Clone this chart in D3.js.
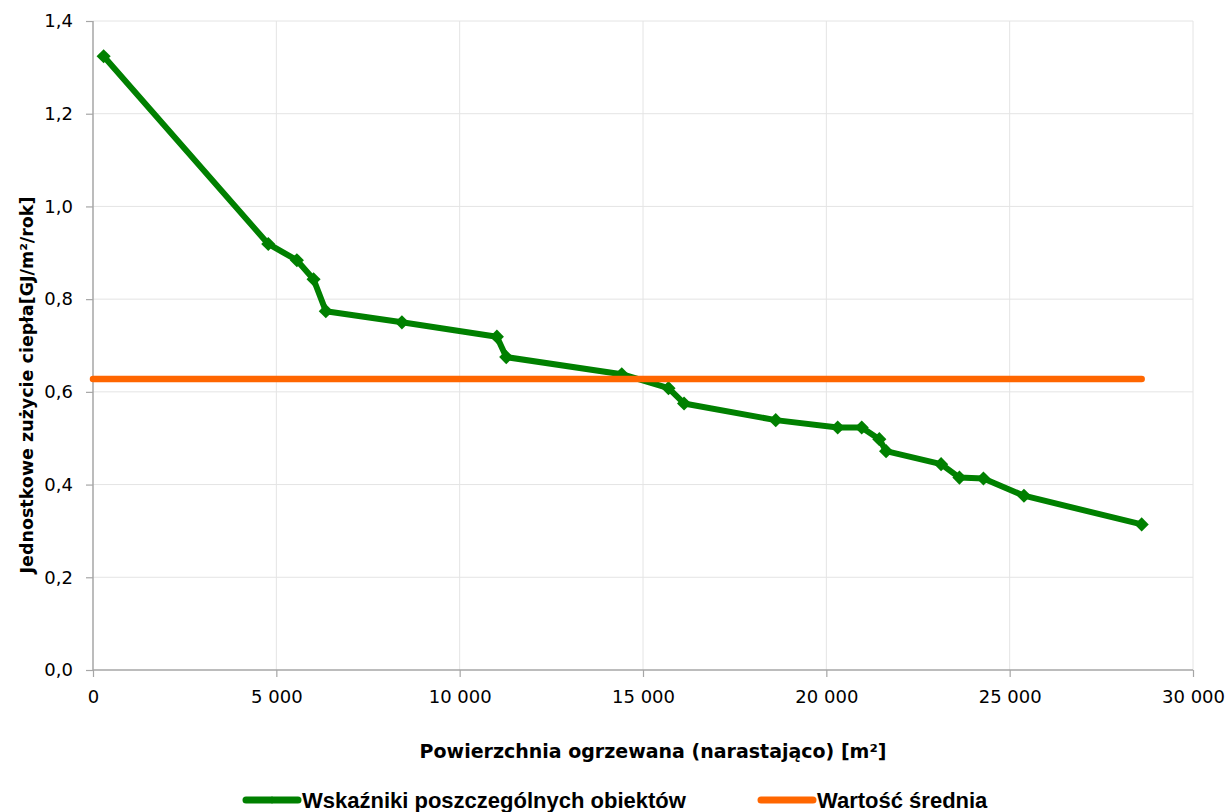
<!DOCTYPE html>
<html>
<head>
<meta charset="utf-8">
<script src="https://cdn.jsdelivr.net/npm/d3@7"></script>
<style>
  body { margin: 0; background: #fff; }
  .tick text { font-family: "DejaVu Sans", sans-serif; font-size: 18px; fill: #000; }
</style>
</head>
<body>
<div id="chart"></div>
<script>
"use strict";

// cumulative heated area [m2] and unit heat use [GJ/m2/yr]
var areaCum = [290, 4780, 5560, 6015, 6350, 8425, 11015, 11270, 14420, 15695, 16120,
               18620, 20310, 20965, 21445, 21630, 23130, 23630, 24285, 25390, 28600];
var unitUse = [1.324, 0.919, 0.884, 0.843, 0.774, 0.750, 0.719, 0.675, 0.638, 0.608, 0.575,
               0.539, 0.523, 0.523, 0.498, 0.472, 0.444, 0.415, 0.413, 0.376, 0.314];
var avgX = [0, 28600];
var avgValue = 0.628;

var xTicks = [0, 5000, 10000, 15000, 20000, 25000, 30000];
var yTicks = [0, 0.2, 0.4, 0.6, 0.8, 1.0, 1.2, 1.4];

var W = 1228, H = 812;
var margin = {top: 21, right: 35, bottom: 142, left: 93};
var width = 1193 - margin.left;
var height = 670 - margin.top;

var svg = d3.select("#chart").append("svg")
    .attr("width", W)
    .attr("height", H);

var g = svg.append("g")
    .attr("transform", "translate(" + margin.left + "," + margin.top + ")");

var x = d3.scaleLinear().domain([0, 30000]).range([0, width]);
var y = d3.scaleLinear().domain([0, 1.4]).range([height, 0]);

var fmtX = function(d) { return d3.format(",")(d).replace(/,/g, " "); };
var fmtY = function(d) { return d3.format(".1f")(d).replace(".", ","); };

// grid
g.append("g").selectAll("line.gy")
    .data(yTicks.slice(1))
  .enter().append("line")
    .attr("x1", 0).attr("x2", width)
    .attr("y1", function(d) { return y(d); })
    .attr("y2", function(d) { return y(d); })
    .attr("stroke", "#e4e4e4").attr("stroke-width", 1);

g.append("g").selectAll("line.gx")
    .data(xTicks.slice(1))
  .enter().append("line")
    .attr("y1", 0).attr("y2", height)
    .attr("x1", function(d) { return x(d); })
    .attr("x2", function(d) { return x(d); })
    .attr("stroke", "#e4e4e4").attr("stroke-width", 1);

// axes
var xAxis = g.append("g")
    .attr("transform", "translate(0," + height + ")")
    .call(d3.axisBottom(x).tickValues(xTicks).tickFormat(fmtX).tickSize(7).tickPadding(10));
var yAxis = g.append("g")
    .call(d3.axisLeft(y).tickValues(yTicks).tickFormat(fmtY).tickSize(7).tickPadding(13));

[xAxis, yAxis].forEach(function(a) {
  a.select(".domain").attr("stroke", "#a6a6a6").attr("stroke-width", 1.5);
  a.selectAll(".tick line").attr("stroke", "#a6a6a6").attr("stroke-width", 1.2);
});
xAxis.selectAll(".tick text").attr("dy", "0.9em");
yAxis.select(".domain").attr("d", "M0," + (height + 0.5) + "V0");
xAxis.select(".domain").attr("d", "M0,0H" + width);

// series
var line = d3.line()
    .x(function(d) { return x(d[0]); })
    .y(function(d) { return y(d[1]); });

var avgData = avgX.map(function(v) { return [v, avgValue]; });
var mainData = areaCum.map(function(v, i) { return [v, unitUse[i]]; });

g.append("path")
    .attr("d", line(mainData))
    .attr("fill", "none")
    .attr("stroke", "#008000")
    .attr("stroke-width", 6)
    .attr("stroke-linejoin", "round");

var diamond = d3.symbol().type(d3.symbolSquare).size(100);
g.selectAll("path.pt")
    .data(mainData)
  .enter().append("path")
    .attr("d", diamond)
    .attr("transform", function(d) { return "translate(" + x(d[0]) + "," + y(d[1]) + ") rotate(45)"; })
    .attr("fill", "#008000");

g.append("path")
    .attr("d", line(avgData))
    .attr("fill", "none")
    .attr("stroke", "#ff6600")
    .attr("stroke-width", 6.5)
    .attr("stroke-linecap", "round");

// axis titles
svg.append("text")
    .attr("x", 653).attr("y", 758)
    .attr("text-anchor", "middle")
    .style("font-family", "'DejaVu Sans', sans-serif")
    .style("font-size", "19px").style("font-weight", "bold")
    .text("Powierzchnia ogrzewana (narastająco) [m²]");

svg.append("text")
    .attr("transform", "translate(33,385) rotate(-90)")
    .attr("text-anchor", "middle")
    .style("font-family", "'DejaVu Sans', sans-serif")
    .style("font-size", "17.5px").style("font-weight", "bold")
    .text("Jednostkowe zużycie ciepła[GJ/m²/rok]");

// legend
var legend = [
  {label: "Wskaźniki poszczególnych obiektów", color: "#008000", x0: 246, marker: true},
  {label: "Wartość średnia", color: "#ff6600", x0: 761, marker: false}
];
var lg = svg.append("g");
legend.forEach(function(l) {
  lg.append("line")
      .attr("x1", l.x0).attr("x2", l.x0 + 52)
      .attr("y1", 800).attr("y2", 800)
      .attr("stroke", l.color).attr("stroke-width", 7)
      .attr("stroke-linecap", "round");
  if (l.marker) {
    lg.append("path")
        .attr("d", d3.symbol().type(d3.symbolSquare).size(30))
        .attr("transform", "translate(" + (l.x0 + 26) + ",800) rotate(45)")
        .attr("fill", l.color);
  }
  lg.append("text")
      .attr("x", l.x0 + 56).attr("y", 808)
      .style("font-family", "'Liberation Sans', Arial, sans-serif")
      .style("font-size", "22px").style("font-weight", "bold")
      .text(l.label);
});
</script>
</body>
</html>
